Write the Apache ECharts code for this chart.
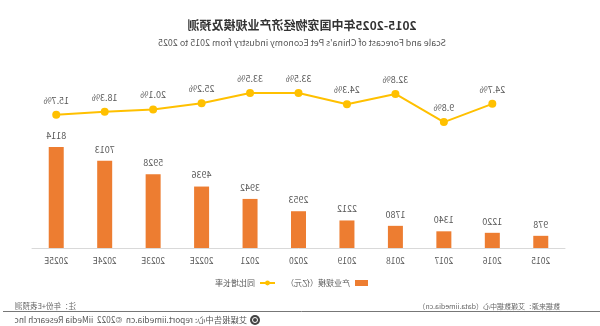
<!DOCTYPE html>
<html>
<head>
<meta charset="utf-8">
<script src="https://cdn.jsdelivr.net/npm/echarts/dist/echarts.min.js"></script>
<style>
  html, body { margin: 0; padding: 0; background: #fff; }
  #chart { width: 600px; height: 326px; transform: scaleX(-1); }
</style>
</head>
<body>
<div id="chart"></div>
<script>
// Pet economy industry scale (100 million CNY) and year-on-year growth
const years = ['2015', '2016', '2017', '2018', '2019', '2020', '2021', '2022E', '2023E', '2024E', '2025E'];
const industryScale = [978, 1220, 1340, 1780, 2212, 2953, 3942, 4936, 5928, 7013, 8114];
const growthRate = [null, 24.7, 9.8, 32.8, 24.3, 33.5, 33.5, 25.2, 20.1, 18.3, 15.7];

const titleText = '2015-2025年中国宠物经济产业规模及预测';
const subtitleText = "Scale and Forecast of China's Pet Economy industry from 2015 to 2025";
const sourceText = '数据来源：艾媒数据中心（data.iimedia.cn）';
const noteText = '注：年份+E表预测';
const footerText = '艾媒报告中心: report.iimedia.cn  ©2022  iiMedia Research Inc';

const FONT = '"Noto Sans CJK SC", "Noto Sans", sans-serif';
const BAR_COLOR = '#ED7D31';
const LINE_COLOR = '#FFC000';
const TEXT_COLOR = '#595959';

const chart = echarts.init(document.getElementById('chart'));

function text(str, x, y, font, fill, align) {
  return {
    type: 'text', x: x, y: y,
    style: {
      text: str, fill: fill, font: font,
      align: align, verticalAlign: 'middle',
      textAlign: align, textVerticalAlign: 'middle'
    }
  };
}

chart.setOption({
  backgroundColor: '#fff',
  textStyle: { fontFamily: FONT },
  animation: false,
  grid: { left: 35, right: 32, top: 60, bottom: 78 },
  legend: [
    {
      left: 227, top: 274,
      itemWidth: 13, itemHeight: 6,
      textStyle: { fontSize: 8, color: TEXT_COLOR, fontFamily: FONT },
      data: [{ name: '产业规模（亿元）', icon: 'rect' }]
    },
    {
      left: 319, top: 274,
      itemWidth: 15, itemHeight: 6,
      textStyle: { fontSize: 8, color: TEXT_COLOR, fontFamily: FONT },
      data: [{ name: '同比增长率' }]
    }
  ],
  xAxis: {
    type: 'category',
    data: years,
    axisLine: { lineStyle: { color: '#d9d9d9' } },
    axisTick: { show: false },
    axisLabel: { color: TEXT_COLOR, fontSize: 8.5, margin: 9, fontFamily: FONT }
  },
  yAxis: [
    { type: 'value', min: 0, max: 15100, show: false, splitLine: { show: false } },
    { type: 'value', min: -93, max: 60.5, show: false, splitLine: { show: false } }
  ],
  series: [
    {
      name: '产业规模（亿元）',
      type: 'bar',
      data: industryScale,
      barWidth: 15,
      itemStyle: { color: BAR_COLOR },
      label: {
        show: true,
        position: 'top',
        distance: 7,
        color: TEXT_COLOR,
        fontSize: 9,
        fontFamily: FONT
      }
    },
    {
      name: '同比增长率',
      type: 'line',
      yAxisIndex: 1,
      data: growthRate,
      symbol: 'circle',
      symbolSize: 8,
      itemStyle: { color: LINE_COLOR },
      lineStyle: { color: LINE_COLOR, width: 2 },
      label: {
        show: true,
        position: 'top',
        distance: 6,
        color: TEXT_COLOR,
        fontSize: 9,
        fontFamily: FONT,
        formatter: p => p.value + '%'
      }
    }
  ],
  graphic: [
    text(titleText, 298, 25, 'bold 12px ' + FONT, '#333', 'center'),
    text(subtitleText, 298, 43, '8.9px ' + FONT, '#555', 'center'),
    text(sourceText, 40, 306, '7px ' + FONT, '#666', 'left'),
    text(noteText, 585, 306, '7.5px ' + FONT, '#666', 'right'),
    {
      type: 'line',
      shape: { x1: 0, y1: 311.5, x2: 597, y2: 311.5 },
      style: { stroke: '#777', lineWidth: 1 }
    },
    {
      type: 'circle',
      shape: { cx: 345, cy: 320, r: 5 },
      style: { fill: '#444' }
    },
    {
      type: 'circle',
      shape: { cx: 345, cy: 320, r: 2.5 },
      style: { fill: 'none', stroke: '#fff', lineWidth: 1 }
    },
    text(footerText, 353, 320, '8.3px ' + FONT, '#555', 'left')
  ]
});
</script>
</body>
</html>
